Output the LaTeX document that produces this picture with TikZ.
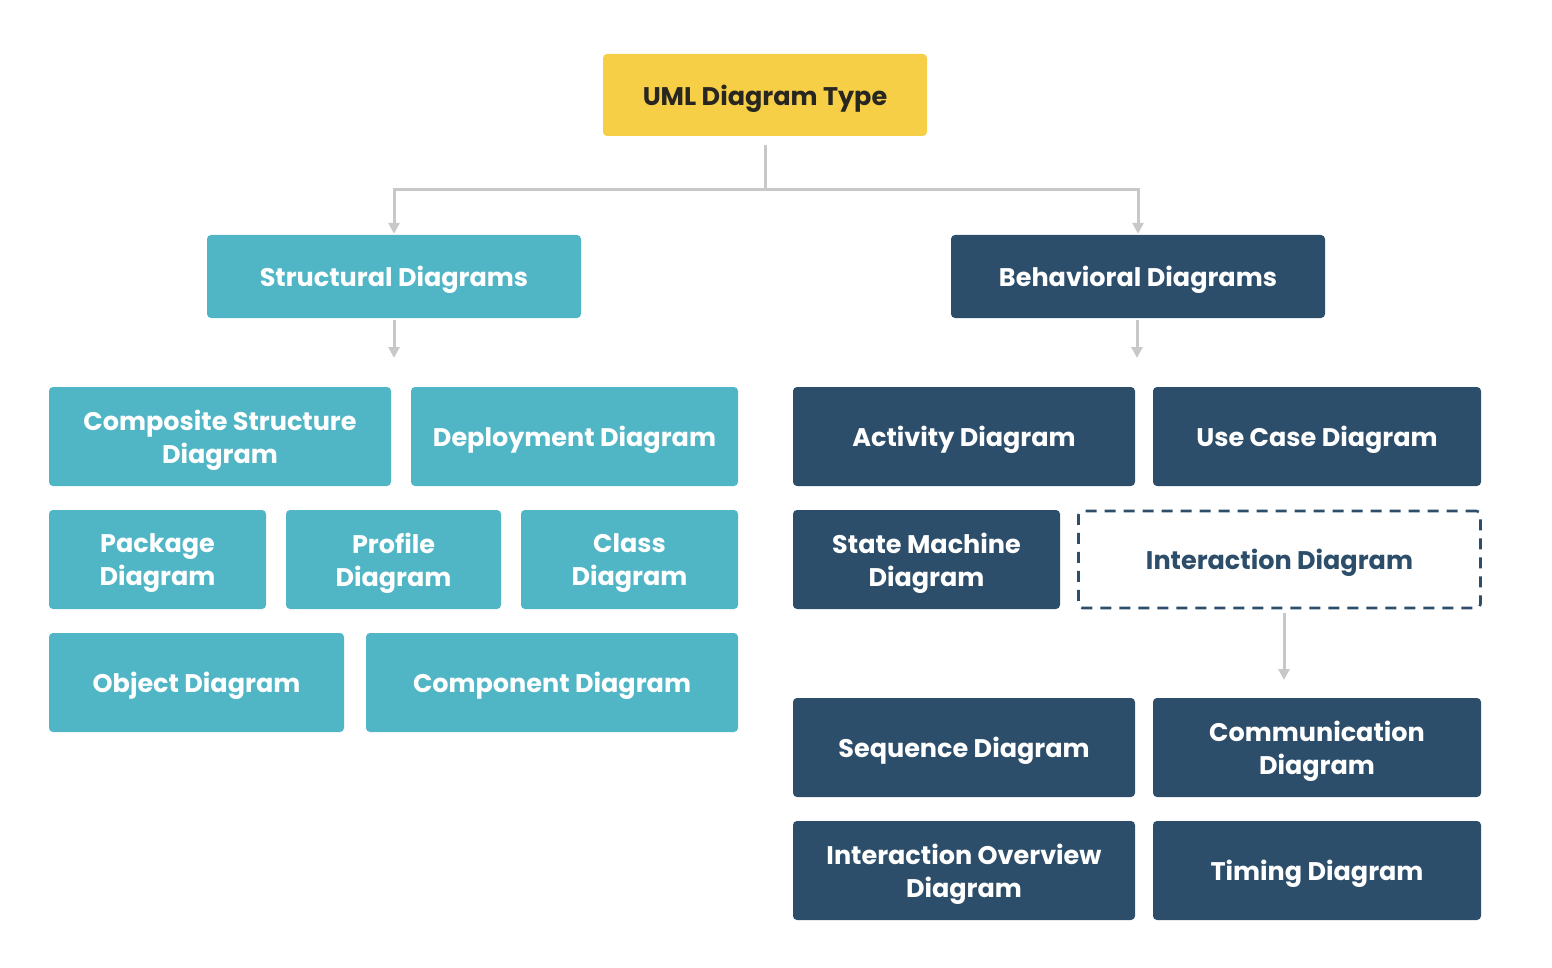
\documentclass[tikz,border=0pt]{standalone}
\usepackage{fontspec}
\setmainfont{Poppins}
\usetikzlibrary{
    arrows.meta,
    positioning
}
\definecolor{umlyellow}{RGB}{247, 207, 70}
\definecolor{structteal}{RGB}{80, 182, 198}
\definecolor{behavnavy}{RGB}{45, 78, 106}
\definecolor{linkgray}{RGB}{200, 200, 200}
\definecolor{titleink}{RGB}{40, 38, 32}

\tikzset{
    box/.style={rectangle, rounded corners=4pt, align=center, inner sep=2pt, text depth=0pt,
        font=\fontsize{25.5}{33}\selectfont\bfseries},
    rootbox/.style={box, fill=umlyellow, text=titleink},
    tealbox/.style={box, fill=structteal, text=white},
    navybox/.style={box, fill=behavnavy, text=white},
    dashbox/.style={box, draw=behavnavy, line width=2.6pt, dash pattern=on 11pt off 8pt,
        text=behavnavy},
    link/.style={draw=linkgray, line width=3pt, -{Triangle[length=11pt, width=11pt]}}
}

\begin{document}
\begin{tikzpicture}[x=1pt, y=-1pt]
    \useasboundingbox (0,0) rectangle (1552,968);

    % Root
    \node[rootbox, minimum width=324pt, minimum height=82pt] (uml) at (765,95) {UML Diagram Type};

    % Two families
    \node[tealbox, minimum width=374pt, minimum height=83pt] (struct) at (394,276.5) {Structural Diagrams};
    \node[navybox, minimum width=374pt, minimum height=83pt] (behav) at (1138,276.5) {Behavioral Diagrams};

    % Structural diagrams
    \foreach \n/\x/\y/\w/\t in {
        comp/220/436.5/342/{Composite Structure\\Diagram},
        deploy/574.5/436.5/327/{Deployment Diagram},
        pack/157.5/559.5/217/{Package\\Diagram},
        prof/393.5/559.5/215/{Profile\\Diagram},
        class/629.5/559.5/217/{Class\\Diagram},
        obj/196.5/682.5/295/{Object Diagram},
        compo/552/682.5/372/{Component Diagram}} {
        \node[tealbox, minimum width=\w pt, minimum height=99pt] (\n) at (\x,\y) {\t};
    }

    % Behavioral diagrams
    \foreach \n/\x/\y/\w/\t in {
        act/964/436.5/342/{Activity Diagram},
        usecase/1317/436.5/328/{Use Case Diagram},
        state/926.5/559.5/267/{State Machine\\Diagram},
        seq/964/747.5/342/{Sequence Diagram},
        commu/1317/747.5/328/{Communication\\Diagram},
        overview/964/870.5/342/{Interaction Overview\\Diagram},
        timing/1317/870.5/328/{Timing Diagram}} {
        \node[navybox, minimum width=\w pt, minimum height=99pt] (\n) at (\x,\y) {\t};
    }
    \node[dashbox, minimum width=402pt, minimum height=97pt] (inter) at (1279.5,559.5) {Interaction Diagram};

    % Connectors
    \coordinate (fork) at (765,190);
    \coordinate (structtip) at (394,358);
    \coordinate (behavtip) at (1137,358);
    \coordinate (intertip) at (1284,680);
    \draw[link, -] ([yshift=-9pt]uml.south) -- (fork);
    \draw[link] ([xshift=1.5pt]fork) -| ([yshift=1pt]struct.north);
    \draw[link] ([xshift=-1.5pt]fork) -| ([yshift=1pt]behav.north);
    \draw[link] ([yshift=-2pt]struct.south) -- (structtip);
    \draw[link] ([yshift=-2pt]behav.south -| behavtip) -- (behavtip);
    \draw[link] ([yshift=-4pt]inter.south -| intertip) -- (intertip);
\end{tikzpicture}
\end{document}
